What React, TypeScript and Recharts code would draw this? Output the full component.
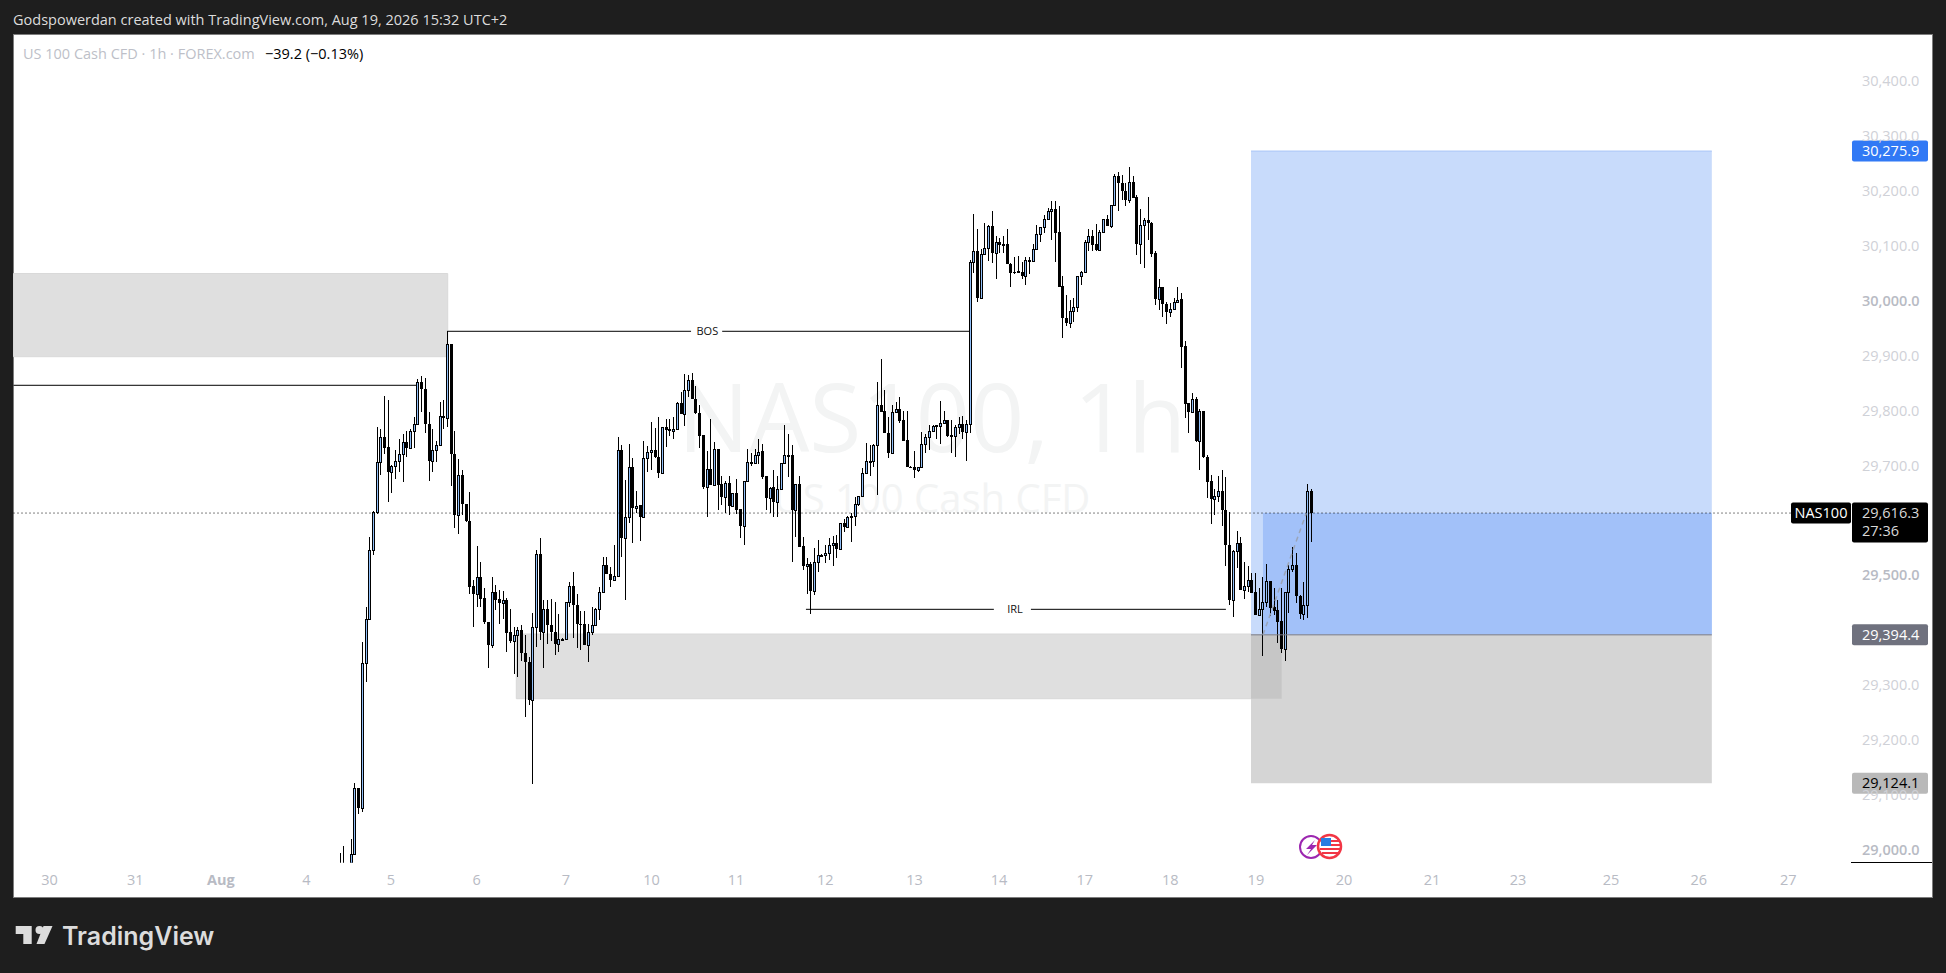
import React from 'react';
import { ComposedChart, Bar, XAxis, YAxis, ReferenceArea, ReferenceLine, ReferenceDot } from 'recharts';

// [open, high, low, close] per hourly candle
const rallyCandles = [
[28960,28997,28950,28970],[28975,29010,28955,28965],[28970,28975,28950,28960],[28965,29022,28955,28995],
[28995,29124,28994,29115],[29115,29115,29068,29079],[29079,29381,29072,29343],[29343,29445,29309,29424],
[29424,29572,29421,29549],[29549,29620,29539,29619],[29619,29773,29615,29709],[29709,29770,29686,29755],
[29755,29830,29724,29735],[29737,29822,29636,29692],[29692,29703,29653,29702],[29702,29732,29679,29711],
[29711,29751,29692,29723],[29723,29760,29673,29745],[29746,29765,29719,29735],[29735,29770,29734,29766],
[29765,29791,29735,29778],[29778,29860,29777,29856],[29856,29866,29801,29843],[29843,29862,29762,29778],
[29778,29800,29675,29712],[29712,29770,29692,29732],[29732,29748,29710,29740],[29740,29818,29739,29794],
[29794,29822,29769,29790],[29790,29948,29773,29924],[29924,29925,29666,29723],[29723,29766,29589,29613],
[29613,29714,29578,29685],[29685,29695,29613,29632],[29632,29632,29600,29601],[29601,29654,29469,29482],
[29483,29494,29409,29468],[29468,29556,29446,29499],[29499,29527,29445,29460],[29461,29480,29415,29417],
[29417,29418,29334,29375],[29375,29500,29370,29472],[29472,29486,29440,29458],[29459,29477,29415,29453],
[29453,29474,29424,29458],[29458,29462,29364,29398],[29399,29441,29380,29383],[29384,29409,29323,29395],
[29395,29408,29318,29404],[29404,29412,29347,29362],[29362,29394,29245,29344],[29345,29354,29266,29276],
];
const augustRangeCandles = [
[29276,29434,29122,29409],[29409,29549,29373,29541],[29541,29570,29385,29399],[29399,29458,29334,29441],
[29441,29458,29378,29412],[29412,29459,29384,29399],[29399,29454,29358,29377],[29377,29432,29364,29386],
[29386,29388,29385,29387],[29387,29454,29386,29454],[29454,29491,29446,29483],[29483,29508,29389,29449],
[29449,29469,29371,29415],[29415,29437,29367,29414],[29415,29437,29375,29376],[29376,29415,29345,29399],
[29399,29446,29394,29412],[29412,29443,29411,29441],[29441,29482,29421,29472],[29472,29536,29471,29521],
[29521,29536,29505,29506],[29506,29518,29482,29495],[29495,29558,29494,29502],[29502,29754,29501,29732],
[29732,29740,29537,29570],[29570,29676,29457,29609],[29609,29742,29598,29701],[29701,29716,29561,29626],
[29626,29656,29616,29630],[29631,29631,29565,29610],[29610,29748,29609,29716],[29716,29738,29692,29727],
[29727,29782,29695,29732],[29732,29771,29717,29718],[29718,29791,29680,29690],[29690,29773,29689,29773],
[29773,29788,29737,29768],[29769,29787,29757,29765],[29765,29791,29752,29769],[29769,29819,29768,29817],
[29817,29837,29796,29796],[29796,29870,29775,29840],[29840,29867,29828,29858],[29858,29871,29824,29825],
[29825,29847,29797,29799],[29799,29813,29735,29757],[29758,29758,29660,29664],[29664,29729,29610,29696],
[29696,29787,29667,29668],[29668,29746,29667,29733],[29733,29733,29621,29668],[29669,29684,29631,29646],
];
const midAugustCandles = [
[29646,29674,29617,29671],[29671,29684,29612,29630],[29630,29653,29629,29652],[29652,29678,29615,29622],
[29623,29623,29570,29593],[29593,29675,29559,29674],[29674,29733,29673,29709],[29708,29725,29702,29709],
[29708,29733,29707,29722],[29722,29751,29706,29728],[29729,29742,29679,29682],[29683,29683,29622,29644],
[29644,29663,29616,29662],[29664,29695,29610,29637],[29637,29683,29610,29660],[29660,29707,29659,29707],
[29707,29777,29706,29722],[29721,29760,29682,29722],[29722,29740,29528,29621],[29621,29669,29573,29669],
[29669,29684,29554,29555],[29556,29573,29512,29519],[29519,29534,29469,29523],[29523,29528,29432,29475],
[29475,29552,29467,29528],[29528,29568,29509,29539],[29539,29541,29538,29540],[29540,29559,29526,29544],
[29544,29570,29531,29558],[29558,29575,29520,29561],[29561,29576,29535,29551],[29551,29598,29550,29598],
[29598,29605,29582,29590],[29590,29611,29589,29609],[29610,29616,29564,29611],[29611,29646,29593,29632],
[29632,29648,29630,29647],[29647,29698,29646,29689],[29689,29744,29688,29711],[29710,29740,29683,29711],
[29711,29742,29700,29740],[29740,29855,29649,29814],[29814,29897,29800,29801],[29802,29840,29762,29763],
[29763,29791,29716,29726],[29726,29813,29725,29800],[29800,29818,29799,29805],[29805,29828,29781,29784],
[29785,29803,29748,29748],[29749,29803,29700,29701],[29701,29702,29699,29700],[29701,29729,29680,29694],
];
const breakoutCandles = [
[29694,29701,29692,29701],[29701,29764,29698,29743],[29743,29760,29725,29754],[29754,29777,29732,29765],
[29765,29776,29764,29775],[29775,29777,29751,29776],[29775,29820,29743,29781],[29781,29803,29780,29785],
[29785,29786,29755,29757],[29757,29786,29726,29758],[29757,29777,29719,29774],[29774,29791,29760,29778],
[29778,29793,29752,29764],[29764,29786,29712,29778],[29778,30077,29763,30073],[30073,30161,30054,30093],
[30093,30134,30001,30009],[30009,30097,30008,30088],[30088,30144,30087,30099],[30099,30141,30076,30139],
[30139,30167,30072,30090],[30090,30121,30043,30111],[30111,30117,30090,30105],[30105,30122,30090,30106],
[30106,30134,30071,30071],[30071,30072,30029,30054],[30055,30083,30052,30054],[30057,30085,30054,30054],
[30055,30074,30042,30049],[30049,30083,30031,30077],[30077,30082,30052,30078],[30076,30106,30075,30097],
[30097,30142,30096,30124],[30124,30138,30111,30137],[30137,30159,30126,30153],[30153,30172,30152,30167],
[30167,30184,30113,30170],[30170,30185,30074,30127],[30128,30176,30028,30029],[30030,30048,29936,29971],
[29971,30014,29958,29963],[29963,30005,29954,29985],[29985,30008,29965,29992],[29992,30049,29983,30048],
[30048,30057,30031,30056],[30056,30114,30055,30110],[30110,30133,30093,30121],[30121,30132,30093,30105],
[30106,30143,30093,30096],[30096,30132,30093,30128],[30128,30152,30127,30152],[30152,30159,30139,30140],
];
const selloffCandles = [
[30140,30178,30136,30177],[30177,30234,30176,30231],[30231,30237,30167,30217],[30217,30232,30186,30203],
[30203,30217,30175,30186],[30186,30246,30182,30219],[30219,30231,30190,30191],[30192,30195,30087,30107],
[30107,30170,30071,30141],[30141,30154,30063,30150],[30150,30192,30114,30144],[30145,30146,30082,30089],
[30090,30094,29995,30007],[30007,30042,29986,30028],[30028,30029,29974,29997],[29997,30000,29961,29983],
[29983,29999,29973,29988],[29988,30008,29987,30001],[30001,30028,30001,30005],[30006,30017,29881,29919],
[29920,29930,29790,29815],[29816,29817,29763,29801],[29801,29835,29800,29825],[29825,29828,29746,29748],
[29748,29806,29695,29802],[29802,29803,29717,29718],[29718,29722,29644,29673],[29674,29685,29596,29641],
[29641,29660,29613,29647],[29647,29684,29637,29656],[29656,29695,29592,29621],[29621,29682,29519,29559],
[29559,29618,29449,29458],[29458,29549,29427,29548],[29548,29584,29517,29561],[29561,29573,29476,29476],
];
const finalCandles = [
[29476,29527,29460,29483],[29483,29519,29472,29494],[29494,29507,29471,29471],[29472,29507,29431,29431],
[29431,29479,29429,29441],[29441,29499,29356,29454],[29454,29524,29445,29492],[29492,29493,29429,29444],
[29445,29479,29431,29438],[29439,29458,29379,29418],[29419,29479,29361,29369],[29369,29473,29346,29472],
[29472,29522,29435,29514],[29514,29554,29508,29521],[29521,29543,29452,29466],[29466,29467,29423,29433],
[29433,29490,29421,29448],[29448,29669,29425,29656],[29656,29661,29564,29616],
];
const allCandles = [...rallyCandles, ...augustRangeCandles, ...midAugustCandles, ...breakoutCandles, ...selloffCandles, ...finalCandles];
const candleData = allCandles.map(([o, h, l, c], slot) => ({ slot, o, h, l, c }));

const dayLabels = ['30','31','Aug','4','5','6','7','10','11','12','13','14','17','18','19','20','21','23','25','26','27'];
const daySlots = [-78.45,-55.33,-32.24,-9.15,13.65,36.75,60.84,83.93,106.73,130.82,154.91,177.68,200.8,223.9,247,270.76,294.5,317.7,342.8,366.5,390.6];
const priceTicks = [29000,29100,29200,29300,29500,29700,29800,29900,30000,30100,30200,30300,30400];

const SLOT_MIN = -88.2;
const SLOT_MAX = 407.55;
const PRICE_MIN = 28979.2;
const PRICE_MAX = 30489.2;

const lastPrice = 29616.3;
const entryPrice = 29394.4;
const targetPrice = 30275.9;
const stopPrice = 29124.1;
const positionStart = 245.67;
const positionFill = 248.9;
const positionEnd = 370;
const upperZone = { x2: 28.95, top: 30052.8, bottom: 29901.2 };
const lowerZone = { x1: 47.45, x2: 253.95, top: 29395.9, bottom: 29278 };
const prevHigh = { x2: 20.6, y: 29849.1 };
const bos = { x1: 28.84, gap1: 94.6, mid: 99, gap2: 103, x2: 169.7, y: 29947.5 };
const irl = { x1: 125.6, gap1: 176.3, mid: 182, gap2: 186.3, x2: 238.9, y: 29440.9 };

const FONT = '"Open Sans", "DejaVu Sans", sans-serif';
const TEXT_SIZE = 14.5;
const fmt = (p: number) => p.toLocaleString('en-US', { minimumFractionDigits: 1, maximumFractionDigits: 1 });

const Candle = (props: any) => {
  const { x, y, width, height, payload } = props;
  const { o, h, l, c } = payload;
  const col = Math.floor(x + width / 2);
  const toY = (v: number) => y + ((h - v) / (h - l)) * height;
  const up = c >= o;
  const top = Math.round(toY(Math.max(o, c)));
  const bot = Math.max(top + 1, Math.round(toY(Math.min(o, c))));
  return (
    <g shapeRendering="crispEdges">
      <rect x={col} y={y} width={1} height={Math.max(height, 1)} fill="#000" />
      <rect x={col - 1} y={top} width={3} height={bot - top + (up ? 1 : 0)} fill="#000" />
      {up && bot - top >= 2 && <rect x={col} y={top + 1} width={1} height={bot - top - 1} fill="#90bff9" />}
    </g>
  );
};

const DayTick = (props: any) => {
  const { x, y, payload } = props;
  const i = daySlots.indexOf(payload.value);
  const label = dayLabels[i];
  const bold = label === 'Aug';
  return (
    <text x={x} y={y + 14} textAnchor="middle" fontFamily={FONT} fontSize={TEXT_SIZE} fontWeight={bold ? 700 : 400} fill="#b8bbc4">
      {label}
    </text>
  );
};

const PriceTick = (props: any) => {
  const { x, y, payload } = props;
  const v = payload.value;
  const bold = v === 30000 || v === 29500 || v === 29000;
  return (
    <text x={x + 3} y={y + 3.5} textAnchor="start" fontFamily={FONT} fontSize={TEXT_SIZE} fontWeight={bold ? 600 : 400} fill={bold ? '#b8bbc4' : '#cfd1d7'}>
      {fmt(v)}
    </text>
  );
};

const priceTag = (bg: string, fg: string, text: string, sub?: string) => (p: any) => (
  <g>
    <rect x={p.cx + 1} y={p.cy - 10.5} width={76} height={sub ? 40 : 21} rx={2} fill={bg} />
    <text x={p.cx + 11} y={p.cy + 5} fontFamily={FONT} fontSize={TEXT_SIZE} fill={fg}>{text}</text>
    {sub && <text x={p.cx + 11} y={p.cy + 23} fontFamily={FONT} fontSize={TEXT_SIZE} fill={fg}>{sub}</text>}
  </g>
);

const nameTag = (p: any) => (
  <g>
    <rect x={p.cx - 60} y={p.cy - 10.5} width={60} height={21} rx={2} fill="#000" />
    <text x={p.cx - 30} y={p.cy + 5} textAnchor="middle" fontFamily={FONT} fontSize={TEXT_SIZE} fill="#fff">NAS100</text>
  </g>
);

const lineLabel = (text: string) => (p: any) => (
  <text x={p.cx} y={p.cy + 4} textAnchor="middle" fontFamily={FONT} fontSize={11} fill="#111">{text}</text>
);

export default function App() {
  return (
    <div style={{ position: 'absolute', left: 0, top: 0, width: 1946, height: 973, background: '#1e1e1e', overflow: 'hidden', fontFamily: FONT }}>
      <div style={{ position: 'absolute', left: 14, top: 35, width: 1918, height: 862, background: '#fff', boxShadow: '0 0 0 1px #7d7d7d' }} />
      <svg width={1946} height={973} style={{ position: 'absolute', left: 0, top: 0 }}>
        <text x={13} y={24.5} fontFamily={FONT} fontSize={TEXT_SIZE} fill="#dcdcdc">Godspowerdan created with TradingView.com, Aug 19, 2026 15:32 UTC+2</text>
        <text x={23} y={58.5} fontFamily={FONT} fontSize={TEXT_SIZE} fill="#bdbfc8">US 100 Cash CFD · 1h · FOREX.com</text>
        <text x={265} y={58.5} fontFamily={FONT} fontSize={TEXT_SIZE} fill="#000">−39.2 (−0.13%)</text>
        <text x={932} y={452} textAnchor="middle" fontFamily={FONT} fontSize={95} fill="#f3f4f4">NAS100, 1h</text>
        <text x={932} y={513} textAnchor="middle" fontFamily={FONT} fontSize={40} fill="#f3f4f4">US 100 Cash CFD</text>
        <path d="M15.7 926H31.7V944H23.3V934H15.7Z" fill="#dcdcdc" />
        <circle cx={39.5} cy={930} r={4} fill="#dcdcdc" />
        <path d="M43.5 926H52.5L44.5 944H36.5Z" fill="#dcdcdc" />
        <text x={62} y={945} fontFamily="Inter, sans-serif" fontSize={25} fontWeight={600} fill="#dcdcdc">TradingView</text>
        <rect x={1851} y={862} width={81} height={1} fill="#000" />
      </svg>
      <ComposedChart
        width={1946}
        height={973}
        data={candleData}
        margin={{ top: 34, right: 14, bottom: 76.3, left: 13.5 }}
        style={{ position: 'absolute', left: 0, top: 0 }}
      >
        <XAxis
          dataKey="slot"
          type="number"
          domain={[SLOT_MIN, SLOT_MAX]}
          allowDataOverflow
          ticks={daySlots}
          interval={0}
          height={34}
          axisLine={false}
          tickLine={false}
          tick={<DayTick />}
        />
        <YAxis
          orientation="right"
          type="number"
          width={81}
          domain={[PRICE_MIN, PRICE_MAX]}
          allowDataOverflow
          ticks={priceTicks}
          interval={0}
          axisLine={false}
          tickLine={false}
          tick={<PriceTick />}
        />
        <ReferenceArea x1={SLOT_MIN} x2={upperZone.x2} y1={upperZone.bottom} y2={upperZone.top} fill="#dfdfdf" fillOpacity={1} stroke="#d9d9d9" />
        <ReferenceArea x1={lowerZone.x1} x2={lowerZone.x2} y1={lowerZone.bottom} y2={lowerZone.top} fill="#dfdfdf" fillOpacity={1} stroke="#d9d9d9" />
        <ReferenceArea x1={positionStart} x2={positionEnd} y1={entryPrice} y2={targetPrice} fill="#c8dbfb" fillOpacity={1} stroke="none" />
        <ReferenceArea x1={positionFill} x2={positionEnd} y1={entryPrice} y2={lastPrice} fill="#a2c1f9" fillOpacity={1} stroke="none" />
        <ReferenceArea x1={positionStart} x2={positionEnd} y1={stopPrice} y2={entryPrice} fill="#d5d5d5" fillOpacity={1} stroke="none" />
        <ReferenceArea x1={positionStart} x2={lowerZone.x2} y1={lowerZone.bottom} y2={entryPrice} fill="#c6c6c6" fillOpacity={1} stroke="none" />
        <ReferenceLine segment={[{ x: positionStart, y: targetPrice }, { x: positionEnd, y: targetPrice }]} stroke="#a9c5f7" />
        <ReferenceLine segment={[{ x: positionStart, y: entryPrice }, { x: positionEnd, y: entryPrice }]} stroke="#787b86" />
        <ReferenceLine segment={[{ x: positionFill, y: entryPrice }, { x: 260.6, y: lastPrice }]} stroke="#9aa5b8" strokeWidth={1.5} strokeDasharray="5 4" />
        <ReferenceLine segment={[{ x: SLOT_MIN, y: prevHigh.y }, { x: prevHigh.x2, y: prevHigh.y }]} stroke="#000" />
        <ReferenceLine segment={[{ x: bos.x1, y: bos.y }, { x: bos.gap1, y: bos.y }]} stroke="#000" />
        <ReferenceLine segment={[{ x: bos.gap2, y: bos.y }, { x: bos.x2, y: bos.y }]} stroke="#000" />
        <ReferenceLine segment={[{ x: irl.x1, y: irl.y }, { x: irl.gap1, y: irl.y }]} stroke="#000" />
        <ReferenceLine segment={[{ x: irl.gap2, y: irl.y }, { x: irl.x2, y: irl.y }]} stroke="#000" />
        <ReferenceLine segment={[{ x: SLOT_MIN, y: lastPrice }, { x: SLOT_MAX - 16.2, y: lastPrice }]} stroke="#000" strokeDasharray="1 3" />
        <Bar dataKey={(d: any) => [d.l, d.h]} barSize={3} shape={<Candle />} isAnimationActive={false} />
        <ReferenceDot x={bos.mid} y={bos.y} r={0} shape={lineLabel('BOS')} />
        <ReferenceDot x={irl.mid} y={irl.y} r={0} shape={lineLabel('IRL')} />
        <ReferenceDot x={SLOT_MAX} y={targetPrice} ifOverflow="visible" shape={priceTag('#3179f5', '#fff', fmt(targetPrice))} />
        <ReferenceDot x={SLOT_MAX} y={lastPrice} ifOverflow="visible" shape={nameTag} />
        <ReferenceDot x={SLOT_MAX} y={lastPrice} ifOverflow="visible" shape={priceTag('#000', '#d8d8d8', fmt(lastPrice), '27:36')} />
        <ReferenceDot x={SLOT_MAX} y={entryPrice} ifOverflow="visible" shape={priceTag('#6f717e', '#fff', fmt(entryPrice))} />
        <ReferenceDot x={SLOT_MAX} y={stopPrice} ifOverflow="visible" shape={priceTag('#b9b9b9', '#000', fmt(stopPrice))} />
      </ComposedChart>
      <svg width={1946} height={973} style={{ position: 'absolute', left: 0, top: 0, pointerEvents: 'none' }}>
        <circle cx={1311} cy={847} r={11} fill="#fff" stroke="#9c27b0" strokeWidth={2} />
        <path d="M1315 840L1306 849H1311L1307 855L1317 845H1312Z" fill="#9c27b0" />
        <circle cx={1329.5} cy={846.5} r={11.5} fill="#fff" stroke="#f23645" strokeWidth={2.5} />
        <rect x={1321} y={838} width={10} height={8} fill="#2a7de1" />
        <rect x={1331} y={840} width={9} height={2} fill="#f23645" />
        <rect x={1331} y={844} width={10} height={2} fill="#f23645" />
        <rect x={1320} y={848} width={20} height={2} fill="#f23645" />
        <rect x={1322} y={852} width={16} height={2} fill="#f23645" />
      </svg>
    </div>
  );
}
